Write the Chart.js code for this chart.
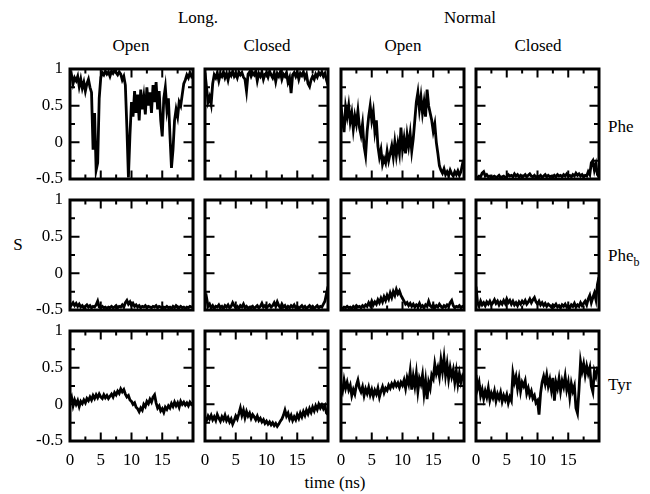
<!DOCTYPE html>
<html>
<head>
<meta charset="utf-8">
<script src="https://cdn.jsdelivr.net/npm/chart.js@4.4.0/dist/chart.umd.min.js"></script>
<style>
  body { margin: 0; background: #fff; }
  #wrap { position: relative; width: 650px; height: 494px; font-family: "Liberation Serif", "Times New Roman", serif; color: #000; }
  #wrap canvas { position: absolute; }
  .lbl { position: absolute; font-size: 17px; white-space: nowrap; transform: translate(-50%, -50%); }
  .row { position: absolute; font-size: 17px; white-space: nowrap; transform: translateY(-50%); }
  .row sub { font-size: 12px; }
</style>
</head>
<body>
<div id="wrap">
  <div class="lbl" style="left:198px;top:18px">Long.</div>
  <div class="lbl" style="left:470px;top:18px">Normal</div>
  <div class="lbl" style="left:131px;top:46px">Open</div>
  <div class="lbl" style="left:267px;top:46px">Closed</div>
  <div class="lbl" style="left:403px;top:46px">Open</div>
  <div class="lbl" style="left:538px;top:46px">Closed</div>
  <div class="row" style="left:608px;top:127px">Phe</div>
  <div class="row" style="left:608px;top:258px">Phe<sub>b</sub></div>
  <div class="row" style="left:608px;top:385px">Tyr</div>
  <div class="lbl" style="left:18px;top:245px">S</div>
  <div class="lbl" style="left:335px;top:483px">time (ns)</div>
</div>
<script>
// time axis (ns)
const time = [0,0.25,0.5,0.75,1,1.25,1.5,1.75,2,2.25,2.5,2.75,3,3.25,3.5,3.75,4,4.25,4.5,4.75,
  5,5.25,5.5,5.75,6,6.25,6.5,6.75,7,7.25,7.5,7.75,8,8.25,8.5,8.75,9,9.25,9.5,9.75,
  10,10.25,10.5,10.75,11,11.25,11.5,11.75,12,12.25,12.5,12.75,13,13.25,13.5,13.75,14,14.25,14.5,14.75,
  15,15.25,15.5,15.75,16,16.25,16.5,16.75,17,17.25,17.5,17.75,18,18.25,18.5,18.75,19,19.25,19.5,19.75,20];

// order parameter S, one array per panel
const longOpenPhe = [0.85,0.92,0.80,0.88,0.84,0.90,0.76,0.86,
  0.74,0.82,0.70,0.80,0.86,0.75,0.68,-0.10,
  0.40,-0.38,-0.28,0.60,0.88,0.95,0.92,0.97,
  0.93,0.96,0.90,0.97,0.94,0.98,0.95,0.92,
  0.96,0.93,0.85,0.90,0.78,0.20,-0.48,0.10,
  0.55,0.35,0.70,0.40,0.65,0.30,0.72,0.45,
  0.62,0.38,0.75,0.50,0.68,0.40,0.78,0.55,
  0.82,0.45,0.70,0.30,0.08,0.60,0.75,0.45,
  0.60,0.10,-0.35,-0.10,0.30,0.45,0.35,0.55,
  0.50,0.65,0.80,0.85,0.92,0.88,0.95,0.90,
  0.93];
const longClosedPhe = [0.95,0.75,0.55,0.62,0.52,0.80,0.92,0.88,
  0.95,0.84,0.93,0.90,0.96,0.88,0.94,0.85,
  0.95,0.91,0.97,0.90,0.94,0.88,0.96,0.92,
  0.95,0.89,0.86,0.70,0.93,0.96,0.90,0.95,
  0.92,0.97,0.84,0.94,0.90,0.96,0.86,0.93,
  0.95,0.89,0.97,0.92,0.88,0.95,0.83,0.94,
  0.90,0.96,0.86,0.93,0.90,0.95,0.82,0.88,
  0.67,0.92,0.95,0.90,0.96,0.86,0.94,0.91,
  0.96,0.88,0.93,0.80,0.76,0.85,0.90,0.86,
  0.93,0.89,0.95,0.92,0.96,0.90,0.94,0.85,
  0.78];
const normalOpenPhe = [0.50,0.30,0.14,0.48,0.35,0.50,0.28,0.40,
  0.18,0.36,0.25,0.43,0.20,0.10,0.25,-0.05,
  -0.18,0.15,0.35,0.50,0.30,0.42,0.15,0.30,
  -0.05,-0.20,-0.10,-0.30,-0.22,-0.28,-0.12,-0.25,
  -0.15,-0.05,-0.20,0.00,-0.18,-0.02,-0.15,0.20,
  -0.10,0.05,-0.15,0.10,-0.05,0.12,-0.12,0.05,
  0.30,0.55,0.68,0.45,0.62,0.40,0.55,0.35,
  0.72,0.50,0.40,0.30,0.15,0.25,0.00,-0.15,
  -0.32,-0.38,-0.42,-0.36,-0.44,-0.40,-0.45,-0.38,
  -0.43,-0.46,-0.40,-0.44,-0.39,-0.45,-0.40,-0.30,
  -0.36];
const normalClosedPhe = [-0.47,-0.48,-0.46,-0.47,-0.42,-0.40,-0.46,-0.44,
  -0.47,-0.46,-0.48,-0.47,-0.46,-0.48,-0.47,-0.45,
  -0.48,-0.47,-0.46,-0.48,-0.47,-0.44,-0.46,-0.45,
  -0.47,-0.43,-0.46,-0.44,-0.47,-0.45,-0.48,-0.46,
  -0.44,-0.47,-0.45,-0.43,-0.46,-0.47,-0.45,-0.48,
  -0.46,-0.47,-0.45,-0.48,-0.46,-0.44,-0.47,-0.45,
  -0.47,-0.46,-0.48,-0.45,-0.47,-0.44,-0.46,-0.45,
  -0.47,-0.44,-0.46,-0.43,-0.46,-0.45,-0.47,-0.44,
  -0.46,-0.42,-0.45,-0.43,-0.46,-0.44,-0.47,-0.45,
  -0.46,-0.40,-0.44,-0.28,-0.25,-0.38,-0.30,-0.44,
  -0.47];
const longOpenPheB = [-0.46,-0.43,-0.40,-0.44,-0.41,-0.45,-0.42,-0.46,
  -0.44,-0.47,-0.45,-0.43,-0.46,-0.44,-0.47,-0.45,
  -0.46,-0.43,-0.38,-0.46,-0.47,-0.45,-0.47,-0.46,
  -0.48,-0.46,-0.47,-0.45,-0.47,-0.46,-0.44,-0.47,
  -0.45,-0.46,-0.43,-0.46,-0.40,-0.37,-0.42,-0.39,
  -0.44,-0.41,-0.45,-0.43,-0.46,-0.44,-0.47,-0.45,
  -0.46,-0.44,-0.47,-0.45,-0.46,-0.47,-0.45,-0.46,
  -0.44,-0.47,-0.45,-0.46,-0.48,-0.46,-0.47,-0.45,
  -0.47,-0.46,-0.48,-0.45,-0.47,-0.44,-0.46,-0.47,
  -0.45,-0.47,-0.46,-0.48,-0.46,-0.47,-0.45,-0.46,
  -0.47];
const longClosedPheB = [-0.40,-0.33,-0.45,-0.42,-0.47,-0.44,-0.48,-0.45,
  -0.46,-0.43,-0.47,-0.45,-0.48,-0.44,-0.46,-0.43,
  -0.47,-0.45,-0.40,-0.44,-0.47,-0.45,-0.48,-0.44,
  -0.46,-0.42,-0.47,-0.45,-0.48,-0.46,-0.47,-0.45,
  -0.48,-0.46,-0.44,-0.47,-0.45,-0.41,-0.46,-0.44,
  -0.47,-0.45,-0.43,-0.46,-0.44,-0.40,-0.45,-0.39,
  -0.44,-0.47,-0.42,-0.46,-0.44,-0.48,-0.45,-0.47,
  -0.44,-0.46,-0.43,-0.47,-0.45,-0.48,-0.46,-0.44,
  -0.47,-0.45,-0.48,-0.46,-0.44,-0.47,-0.45,-0.48,
  -0.46,-0.44,-0.47,-0.45,-0.46,-0.42,-0.38,-0.28,
  -0.18];
const normalOpenPheB = [-0.47,-0.48,-0.46,-0.47,-0.45,-0.47,-0.46,-0.48,
  -0.45,-0.47,-0.44,-0.46,-0.45,-0.47,-0.44,-0.46,
  -0.43,-0.45,-0.40,-0.44,-0.38,-0.43,-0.39,-0.42,
  -0.36,-0.40,-0.34,-0.39,-0.32,-0.37,-0.30,-0.35,
  -0.27,-0.33,-0.25,-0.30,-0.22,-0.28,-0.24,-0.30,
  -0.34,-0.38,-0.42,-0.40,-0.44,-0.41,-0.45,-0.42,
  -0.46,-0.43,-0.45,-0.41,-0.46,-0.44,-0.47,-0.43,
  -0.45,-0.38,-0.44,-0.46,-0.43,-0.47,-0.44,-0.46,
  -0.42,-0.45,-0.47,-0.44,-0.46,-0.43,-0.45,-0.40,
  -0.37,-0.44,-0.47,-0.45,-0.46,-0.44,-0.47,-0.45,
  -0.46];
const normalClosedPheB = [-0.18,-0.40,-0.45,-0.38,-0.43,-0.40,-0.44,-0.39,
  -0.42,-0.38,-0.43,-0.40,-0.36,-0.41,-0.38,-0.43,
  -0.39,-0.42,-0.37,-0.41,-0.35,-0.40,-0.37,-0.42,
  -0.38,-0.43,-0.40,-0.44,-0.39,-0.42,-0.38,-0.41,
  -0.37,-0.42,-0.39,-0.35,-0.40,-0.36,-0.33,-0.39,
  -0.42,-0.38,-0.43,-0.40,-0.44,-0.41,-0.45,-0.42,
  -0.44,-0.46,-0.43,-0.45,-0.42,-0.46,-0.44,-0.47,
  -0.43,-0.45,-0.42,-0.46,-0.44,-0.47,-0.43,-0.45,
  -0.41,-0.46,-0.43,-0.45,-0.40,-0.44,-0.41,-0.38,
  -0.43,-0.35,-0.30,-0.40,-0.33,-0.27,-0.36,-0.15,
  -0.05];
const longOpenTyr = [0.05,0.10,-0.02,0.06,0.00,0.05,-0.03,0.04,
  0.01,0.06,0.02,0.08,0.05,0.10,0.06,0.12,
  0.08,0.13,0.09,0.14,0.10,0.08,0.13,0.09,
  0.12,0.08,0.11,0.14,0.10,0.16,0.13,0.18,
  0.15,0.21,0.17,0.20,0.14,0.10,0.12,0.06,
  0.04,0.00,0.02,-0.04,-0.06,-0.10,-0.05,-0.08,
  0.00,-0.03,0.04,0.01,0.07,0.03,0.10,0.13,
  0.02,-0.05,-0.02,-0.09,-0.06,-0.11,-0.04,-0.07,
  -0.02,-0.05,0.01,-0.03,0.03,-0.02,0.02,-0.04,
  0.04,0.00,0.03,-0.01,0.02,-0.02,0.03,0.00,
  0.02];
const longClosedTyr = [-0.18,-0.22,-0.16,-0.20,-0.15,-0.21,-0.17,-0.22,
  -0.14,-0.19,-0.23,-0.17,-0.21,-0.15,-0.22,-0.18,
  -0.24,-0.20,-0.27,-0.22,-0.16,-0.20,-0.13,-0.05,
  -0.15,-0.08,-0.18,-0.10,-0.16,-0.12,-0.19,-0.14,
  -0.17,-0.21,-0.16,-0.22,-0.19,-0.24,-0.21,-0.26,
  -0.23,-0.27,-0.24,-0.28,-0.25,-0.29,-0.26,-0.30,
  -0.27,-0.23,-0.20,-0.15,-0.08,-0.16,-0.12,-0.20,
  -0.15,-0.22,-0.17,-0.21,-0.14,-0.19,-0.12,-0.17,
  -0.10,-0.15,-0.08,-0.13,-0.06,-0.11,-0.04,-0.09,
  -0.02,-0.07,0.00,-0.05,-0.01,-0.06,-0.02,-0.12,
  -0.14];
const normalOpenTyr = [0.25,0.18,0.33,0.22,0.30,0.20,0.26,0.12,
  0.20,0.14,0.26,0.33,0.22,0.17,0.24,0.12,
  0.21,0.15,0.23,0.13,0.20,0.11,0.19,0.14,
  0.22,0.10,0.18,0.24,0.16,0.22,0.19,0.26,
  0.22,0.28,0.24,0.30,0.25,0.29,0.23,0.30,
  0.26,0.33,0.22,0.36,0.28,0.45,0.20,0.38,
  0.25,0.42,0.18,0.35,0.28,0.40,0.15,0.32,
  0.07,0.30,0.22,0.40,0.35,0.55,0.42,0.50,
  0.38,0.60,0.45,0.63,0.40,0.55,0.35,0.50,
  0.38,0.47,0.30,0.45,0.28,0.42,0.30,0.38,
  0.33];
const normalClosedTyr = [0.40,0.22,0.30,0.12,0.20,0.08,0.18,0.10,
  0.22,0.06,0.15,0.09,0.18,0.05,0.14,0.08,
  0.16,0.04,0.12,0.06,0.13,0.02,0.10,0.05,
  0.42,0.30,0.38,0.22,0.35,0.18,0.30,0.25,
  0.32,0.15,0.22,0.12,0.18,0.08,0.12,0.02,
  0.05,-0.14,0.15,0.30,0.38,0.28,0.40,0.25,
  0.34,0.20,0.36,0.05,0.30,0.22,0.35,0.18,
  0.32,0.24,0.38,0.20,0.30,0.10,0.28,0.18,
  0.25,-0.05,-0.12,0.20,0.58,0.45,0.55,0.40,
  0.52,0.42,0.50,0.25,0.17,0.45,0.38,0.48,
  0.45];

// tick marks (inside the frame) and labelled ticks
const xMinorTicks = [2.5, 7.5, 12.5, 17.5];
const xMajorTicks = [5, 10, 15];
const yMinorTicks = [-0.25, 0.25, 0.75];
const yMajorTicks = [0, 0.5];

const grid = [
  [longOpenPhe, longClosedPhe, normalOpenPhe, normalClosedPhe],
  [longOpenPheB, longClosedPheB, normalOpenPheB, normalClosedPheB],
  [longOpenTyr, longClosedTyr, normalOpenTyr, normalClosedTyr],
];

// panel frames in page pixels
const boxLeft = [70, 205, 341, 476];
const boxTop = [69, 200, 331];
const boxW = 123, boxH = 110;
const yAxisW = 45, xAxisH = 28, pad = 12;

const serif = '"Liberation Serif", "Times New Roman", serif';
Chart.defaults.font.family = serif;
Chart.defaults.font.size = 17;
Chart.defaults.color = "#000";

// frame + inward ticks on all four sides
const framePlugin = {
  id: "frame",
  afterDatasetsDraw(chart) {
    const { ctx, chartArea: a, scales } = chart;
    const x = scales.x, y = scales.y;
    ctx.save();
    ctx.strokeStyle = "#000";
    ctx.lineWidth = 2;
    ctx.beginPath();
    const xt = (v, len) => {
      const px = x.getPixelForValue(v);
      ctx.moveTo(px, a.top); ctx.lineTo(px, a.top + len);
      ctx.moveTo(px, a.bottom); ctx.lineTo(px, a.bottom - len);
    };
    const yt = (v, len) => {
      const py = y.getPixelForValue(v);
      ctx.moveTo(a.left, py); ctx.lineTo(a.left + len, py);
      ctx.moveTo(a.right, py); ctx.lineTo(a.right - len, py);
    };
    xMinorTicks.forEach((v) => xt(v, 4.5));
    xMajorTicks.forEach((v) => xt(v, 8.5));
    yMinorTicks.forEach((v) => yt(v, 5));
    yMajorTicks.forEach((v) => yt(v, 9.5));
    ctx.stroke();
    ctx.lineWidth = 3;
    ctx.strokeRect(a.left, a.top, a.width, a.height);
    ctx.restore();
  },
};

const wrap = document.getElementById("wrap");

// keep axis boxes to a fixed size so every frame lands at the same place
function fixAxis(s, shown, isX) {
  if (isX) s.height = shown ? xAxisH : 0;
  else s.width = shown ? yAxisW : 0;
  s.paddingTop = 0;
  s.paddingBottom = 0;
  s.paddingLeft = 0;
  s.paddingRight = 0;
}

function makePanel(r, c, values) {
  const showY = c === 0;
  const showX = r === 2;
  const w = boxW + 2 * pad + (showY ? yAxisW : 0);
  const h = boxH + 2 * pad + (showX ? xAxisH : 0);
  const cv = document.createElement("canvas");
  cv.width = w;
  cv.height = h;
  cv.style.left = boxLeft[c] - pad - (showY ? yAxisW : 0) + "px";
  cv.style.top = boxTop[r] - pad + "px";
  cv.style.width = w + "px";
  cv.style.height = h + "px";
  wrap.appendChild(cv);

  new Chart(cv, {
    type: "line",
    data: {
      datasets: [
        {
          data: time.map((t, i) => ({ x: t, y: values[i] })),
          borderColor: "#000",
          borderWidth: 2.8,
          pointRadius: 0,
          tension: 0,
          fill: false,
        },
      ],
    },
    options: {
      responsive: false,
      animation: false,
      layout: { padding: pad },
      plugins: { legend: { display: false }, tooltip: { enabled: false } },
      scales: {
        x: {
          type: "linear",
          min: 0,
          max: 20,
          display: showX,
          afterFit: (s) => fixAxis(s, showX, true),
          grid: { display: false, drawTicks: false },
          border: { display: false },
          ticks: {
            stepSize: 5,
            autoSkip: false,
            maxRotation: 0,
            padding: 9,
            font: { family: serif, size: 17 },
            callback: (v) => (v === 20 ? "" : String(v)),
          },
        },
        y: {
          min: -0.5,
          max: 1,
          display: showY,
          afterFit: (s) => fixAxis(s, showY, false),
          grid: { display: false, drawTicks: false },
          border: { display: false },
          ticks: {
            stepSize: 0.5,
            autoSkip: false,
            padding: 7,
            font: { family: serif, size: 17 },
            callback: (v) => String(v),
          },
        },
      },
    },
    plugins: [framePlugin],
  });
}

grid.forEach((row, r) => row.forEach((vals, c) => makePanel(r, c, vals)));
</script>
</body>
</html>
